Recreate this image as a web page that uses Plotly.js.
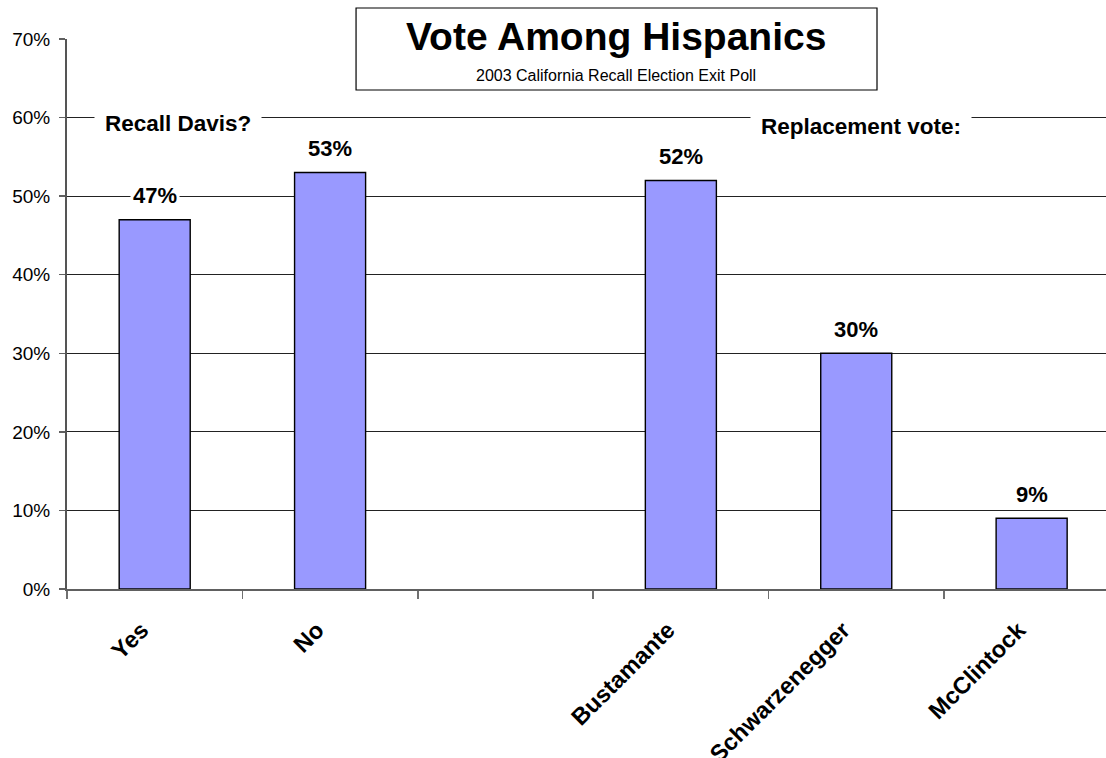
<!DOCTYPE html>
<html>
<head>
<meta charset="utf-8">
<script src="https://cdn.plot.ly/plotly-3.0.1.min.js"></script>
<style>html,body{margin:0;padding:0;background:#fff;}#chart{width:1106px;height:758px;}</style>
</head>
<body>
<div id="chart"></div>
<script>
// Data
const categories = ["Yes", "No", " ", "Bustamante", "Schwarzenegger", "McClintock"];
const values = [47, 53, null, 52, 30, 9];
const groupLabels = ["Recall Davis?", "Replacement vote:"];
const titleText = "Vote Among Hispanics";
const subtitleText = "2003 California Recall Election Exit Poll";

const FONT = "Liberation Sans, Arial, sans-serif";

const trace = {
  type: "bar",
  x: categories,
  y: values,
  width: 0.405,
  marker: {color: "#9999FF", line: {color: "#000000", width: 1.4}},
  hoverinfo: "skip"
};

const annotations = [];
categories.forEach((c, i) => {
  if (values[i] === null) return;
  annotations.push({
    x: c, y: values[i], xref: "x", yref: "y",
    text: "<b>" + values[i] + "%</b>",
    showarrow: false, yanchor: "middle", yshift: 24,
    bgcolor: "#ffffff", borderpad: 2,
    font: {family: FONT, size: 22, color: "#000"}
  });
});
annotations.push({
  x: 0.133, y: 59.2, xref: "x", yref: "y",
  text: "<b>" + groupLabels[0] + "</b>", showarrow: false,
  bgcolor: "#ffffff", borderpad: 10,
  font: {family: FONT, size: 22.5, color: "#000"}
});
annotations.push({
  x: 4.027, y: 58.9, xref: "x", yref: "y",
  text: "<b>" + groupLabels[1] + "</b>", showarrow: false,
  bgcolor: "#ffffff", borderpad: 10,
  font: {family: FONT, size: 22.5, color: "#000"}
});
annotations.push({
  x: 0.5284, y: 1.004, xref: "paper", yref: "paper",
  text: "<b>" + titleText + "</b>", showarrow: false,
  yanchor: "middle",
  font: {family: FONT, size: 39, color: "#000"}
});
annotations.push({
  x: 0.5284, y: 0.934, xref: "paper", yref: "paper",
  text: subtitleText, showarrow: false,
  yanchor: "middle",
  font: {family: FONT, size: 16, color: "#000"}
});

const layout = {
  width: 1106, height: 758,
  margin: {l: 67, r: 0, t: 39, b: 169},
  paper_bgcolor: "#ffffff", plot_bgcolor: "#ffffff",
  showlegend: false,
  font: {family: FONT, color: "#000"},
  xaxis: {
    type: "category",
    range: [-0.5, 5.424],
    tickson: "boundaries",
    ticks: "outside", ticklen: 8, tickcolor: "#707070", tickwidth: 1.5,
    showline: true, linecolor: "#606060", linewidth: 2,
    showgrid: false, zeroline: false,
    tickangle: -45,
    ticklabelshift: -13,
    ticklabelstandoff: 16,
    tickfont: {family: FONT, size: 23.5, color: "#000", weight: "bold"},
    fixedrange: true
  },
  yaxis: {
    range: [0, 70], dtick: 10, tick0: 0,
    ticksuffix: "%",
    ticks: "outside", ticklen: 6, tickcolor: "#606060", tickwidth: 1.5,
    ticklabelstandoff: 5,
    showline: true, linecolor: "#555555", linewidth: 2,
    showgrid: true, gridcolor: "#222222", gridwidth: 1,
    zeroline: false,
    tickfont: {family: FONT, size: 19, color: "#000"},
    fixedrange: true
  },
  shapes: [{
    type: "rect", xref: "paper", yref: "paper",
    x0: 0.2782, x1: 0.7796, y0: 0.9073, y1: 1.0564,
    fillcolor: "#ffffff", line: {color: "#000000", width: 1.2}, layer: "above"
  }],
  annotations: annotations
};

Plotly.newPlot("chart", [trace], layout, {staticPlot: true, displayModeBar: false});
</script>
</body>
</html>
